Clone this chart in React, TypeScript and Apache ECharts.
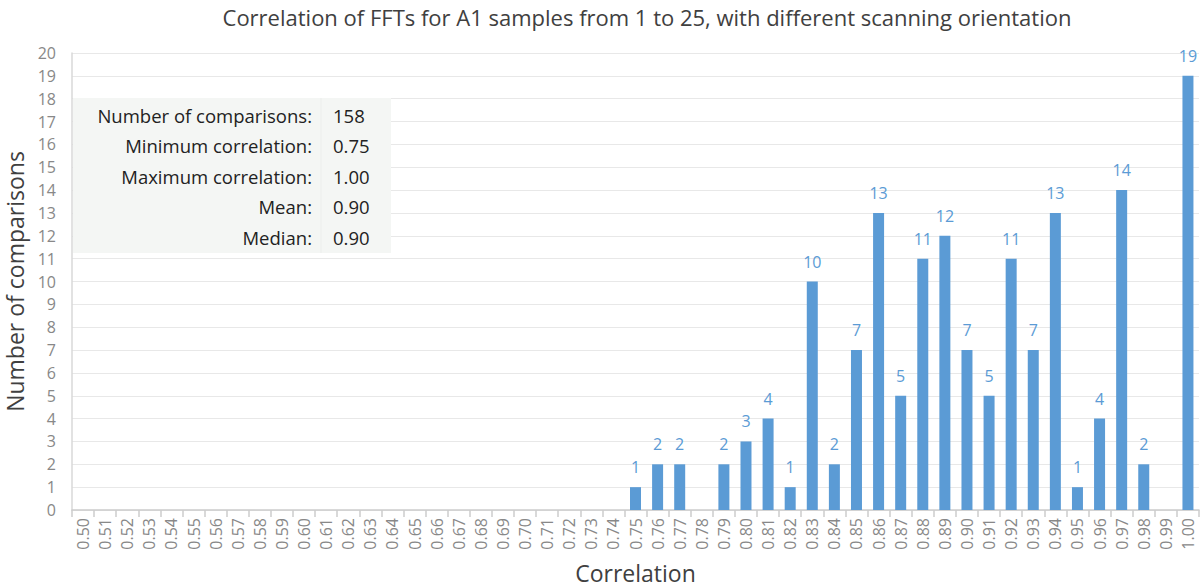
import React, { useEffect, useRef } from "react";
import * as echarts from "echarts";

const categories: string[] = [];
for (let i = 50; i <= 100; i++) categories.push((i / 100).toFixed(2));

const countsByCategory: Record<string, number> = {
  "0.75": 1, "0.76": 2, "0.77": 2, "0.78": 0, "0.79": 2, "0.80": 3, "0.81": 4,
  "0.82": 1, "0.83": 10, "0.84": 2, "0.85": 7, "0.86": 13, "0.87": 5, "0.88": 11,
  "0.89": 12, "0.90": 7, "0.91": 5, "0.92": 11, "0.93": 7, "0.94": 13, "0.95": 1,
  "0.96": 4, "0.97": 14, "0.98": 2, "0.99": 0, "1.00": 19,
};
const values: number[] = categories.map((c) => countsByCategory[c] ?? 0);

const statLabels = ["Number of comparisons:", "Minimum correlation:", "Maximum correlation:", "Mean:", "Median:"];
const statValues = ["158", "0.75", "1.00", "0.90", "0.90"];

const FONT = "'Open Sans', 'Noto Sans', sans-serif";

export default function App() {
  const ref = useRef<HTMLDivElement>(null);
  useEffect(() => {
    if (!ref.current) return;
    const chart = echarts.init(ref.current, undefined, { renderer: "svg" });
    const statGraphics: any[] = [
      {
        type: "rect",
        shape: { x: 73, y: 98, width: 318, height: 155 },
        style: { fill: "#f4f6f4" },
        z: 10,
      },
      {
        type: "line",
        shape: { x1: 321, y1: 98, x2: 321, y2: 253 },
        style: { stroke: "#eceeec", lineWidth: 1 },
        z: 10,
      },
    ];
    statLabels.forEach((t, i) => {
      statGraphics.push({
        type: "text",
        x: 312,
        y: 115 + i * 30.5,
        style: { text: t, fill: "#222", font: `18.5px ${FONT}`, textAlign: "right", textVerticalAlign: "middle" },
        z: 11,
      });
      statGraphics.push({
        type: "text",
        x: 333,
        y: 115 + i * 30.5,
        style: { text: statValues[i], fill: "#222", font: `18.5px ${FONT}`, textAlign: "left", textVerticalAlign: "middle" },
        z: 11,
      });
    });
    chart.setOption({
      animation: false,
      textStyle: { fontFamily: FONT },
      title: {
        text: "Correlation of FFTs for A1 samples from 1 to 25, with different scanning orientation",
        left: 642,
        textAlign: "center",
        top: 1,
        textStyle: { fontSize: 22, fontWeight: "normal", color: "#404040", fontFamily: FONT },
      },
      grid: { left: 72, right: 1, top: 53, bottom: 77, outerBoundsMode: "none", containLabel: false },
      xAxis: {
        type: "category",
        data: categories,
        name: "Correlation",
        nameLocation: "middle",
        nameGap: 51,
        nameMoveOverlap: false,
        nameTextStyle: { fontSize: 23, color: "#404040", fontFamily: FONT },
        axisLine: { lineStyle: { color: "#cccccc", width: 1.5 } },
        axisTick: { show: true, length: 7, lineStyle: { color: "#cccccc", width: 1.5 } },
        axisLabel: { rotate: 90, interval: 0, color: "#888", fontSize: 16, margin: 8, fontFamily: FONT },
      },
      yAxis: {
        type: "value",
        min: 0,
        max: 20,
        interval: 1,
        name: "Number of comparisons",
        nameLocation: "middle",
        nameGap: 46,
        nameMoveOverlap: false,
        nameTextStyle: { fontSize: 23, color: "#404040", fontFamily: FONT },
        axisLine: { show: true, lineStyle: { color: "#d9d9d9", width: 1.5 } },
        axisTick: { show: false },
        axisLabel: { color: "#888", fontSize: 16, margin: 16, fontFamily: FONT },
        splitLine: { lineStyle: { color: "#e8e8e8" } },
      },
      series: [
        {
          type: "bar",
          data: values,
          barWidth: 11,
          itemStyle: { color: "#5b9bd5" },
          label: {
            show: true,
            position: "top",
            distance: 12,
            color: "#5b9bd5",
            fontSize: 16,
            fontFamily: FONT,
            formatter: (p: any) => (p.value > 0 ? String(p.value) : ""),
          },
        },
      ],
      graphic: statGraphics,
    });
    return () => chart.dispose();
  }, []);
  return (
    <div
      ref={ref}
      style={{ position: "fixed", left: 0, top: 0, width: 1200, height: 587, background: "#fff" }}
    />
  );
}
